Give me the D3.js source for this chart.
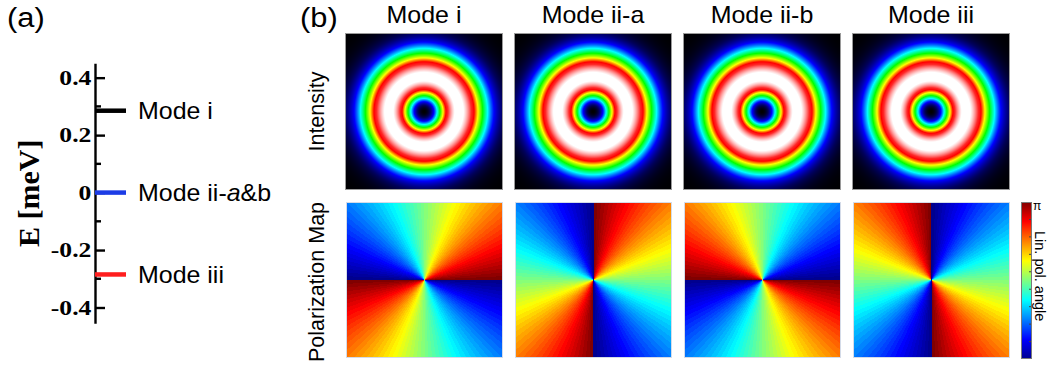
<!DOCTYPE html>
<html>
<head>
<meta charset="utf-8">
<script src="https://cdn.jsdelivr.net/npm/d3@7"></script>
<style>
  html, body { margin: 0; padding: 0; background: #fff; }
  svg { display: block; }
</style>
</head>
<body>
<svg id="fig" width="1054" height="370"></svg>
<script>
// ---- (a) energy levels ----
const levelLabels = ["Mode i", "Mode ii-a&b", "Mode iii"];
const levelEnergies = [0.285, 0, -0.285];          // meV
const levelColors = ["#000000", "#1c3ce6", "#ff1e1e"];
const energyTicks = [-0.4, -0.2, 0, 0.2, 0.4];
const energyMinorTicks = [-0.3, -0.1, 0.1, 0.3];

// ---- (b) mode maps ----
const modeNames = ["Mode i", "Mode ii-a", "Mode ii-b", "Mode iii"];
const ringRadius = [0.443, 0.443, 0.443, 0.443];   // donut peak, fraction of map half-width
const polWinding = [-1, 1, 1, -1];                 // polarization angle winding around the core
const polOffsetDeg = [0, 90, 0, 90];               // polarization angle along +x
const rowLabels = ["Intensity", "Polarization Map"];
const colorbarTickDeg = [20, 40, 60, 80, 100, 120, 140, 160];

// colormaps
const intensityStops  = [0, 0.08, 0.2, 0.33, 0.46, 0.6, 0.72, 0.8, 0.97, 1];
const intensityColors = ["#000000", "#00005a", "#0000ff", "#00ffff", "#00ff00",
                         "#ffff00", "#ff0000", "#ff2a2a", "#ffffff", "#ffffff"];
const jetStops  = [0, 0.125, 0.375, 0.625, 0.875, 1];
const jetColors = ["#00008f", "#0000ff", "#00ffff", "#ffff00", "#ff0000", "#800000"];

const SANS = "'Liberation Sans', Arial, sans-serif";
const SERIF = "'Liberation Serif', 'Times New Roman', serif";

const svg = d3.select("#fig");

const intensityColor = d3.scaleLinear().domain(intensityStops).range(intensityColors)
  .interpolate(d3.interpolateRgb).clamp(true);
const jet = d3.scaleLinear().domain(jetStops).range(jetColors)
  .interpolate(d3.interpolateRgb).clamp(true);

// text placed with an optional horizontal stretch and rotation
function addText(parent, x, y, str, o) {
  const t = parent.append("text")
    .attr("transform", `translate(${x},${y}) scale(${o.sx || 1},1)` + (o.rotate ? ` rotate(${o.rotate})` : ""))
    .attr("font-family", o.family || SANS)
    .attr("font-size", o.size)
    .attr("font-weight", o.weight || "normal")
    .attr("text-anchor", o.anchor || "start")
    .attr("fill", "#000");
  if (o.dy) t.attr("dy", o.dy);
  t.text(str);
  return t;
}

// rasterise a field on [-1,1]x[-1,1] into an image
function fieldImage(w, h, colorAt) {
  const cv = document.createElement("canvas");
  cv.width = w; cv.height = h;
  const ctx = cv.getContext("2d");
  const img = ctx.createImageData(w, h);
  const sx = d3.scaleLinear().domain([0, w]).range([-1, 1]);
  const sy = d3.scaleLinear().domain([0, h]).range([1, -1]);
  for (let j = 0; j < h; j++) {
    for (let i = 0; i < w; i++) {
      const c = d3.rgb(colorAt(sx(i + 0.5), sy(j + 0.5)));
      const k = 4 * (j * w + i);
      img.data[k] = c.r; img.data[k + 1] = c.g; img.data[k + 2] = c.b; img.data[k + 3] = 255;
    }
  }
  ctx.putImageData(img, 0, 0);
  return cv.toDataURL();
}

// ================= panel (a) =================
addText(svg, 7, 27, "(a)", { size: 28, sx: 1.1 });

const yE = d3.scaleLinear().domain([-0.455, 0.45]).range([323.3, 63.3]);
const axisX = 95;
const gA = svg.append("g");

const fmt = v => v === 0 ? "0" : (v < 0 ? "-" : "") + Math.abs(v).toFixed(1);
const axis = d3.axisLeft(yE).tickValues(energyTicks).tickFormat(fmt)
  .tickSize(-10).tickSizeOuter(0).tickPadding(3);
const gAxis = gA.append("g").attr("transform", `translate(${axisX},0)`).call(axis);
gAxis.select(".domain").attr("stroke", "#000").attr("stroke-width", 2.4);
gAxis.selectAll(".tick line").attr("stroke", "#000").attr("stroke-width", 2.4);
gAxis.selectAll(".tick text")
  .attr("font-family", SERIF).attr("font-size", 21).attr("font-weight", "bold")
  .attr("fill", "#000")
  .attr("transform", "scale(1.22,1)");

gA.selectAll("line.minor").data(energyMinorTicks).join("line")
  .attr("class", "minor")
  .attr("x1", axisX).attr("x2", axisX + 6)
  .attr("y1", d => yE(d)).attr("y2", d => yE(d))
  .attr("stroke", "#000").attr("stroke-width", 2.4);

addText(gA, 39, (yE(0.45) + yE(-0.455)) / 2, "E [meV]",
  { size: 30, family: SERIF, weight: "bold", rotate: -90, anchor: "middle" });

// level bars
gA.selectAll("line.level").data(levelEnergies).join("line")
  .attr("class", "level")
  .attr("x1", axisX).attr("x2", axisX + 31)
  .attr("y1", d => yE(d)).attr("y2", d => yE(d))
  .attr("stroke", (d, i) => levelColors[i]).attr("stroke-width", 4.5);

levelLabels.forEach((lab, i) => {
  const t = addText(gA, 138, yE(levelEnergies[i]) + 8.6, "", { size: 24, sx: 1.04 });
  if (lab.includes("-a&b")) {
    t.append("tspan").text("Mode ii-");
    t.append("tspan").attr("font-style", "italic").text("a");
    t.append("tspan").text("&b");
  } else {
    t.text(lab);
  }
});

// ================= panel (b) =================
addText(svg, 300, 27, "(b)", { size: 28, sx: 1.1 });

const colX = d3.scalePoint().domain(modeNames).range([345, 852]);
const mapW = 158, intY = 33, intH = 157;
const polY = 202, polH = 156, polW = 157;

const gB = svg.append("g");

modeNames.forEach((name, i) => {
  const x0 = colX(name);
  addText(gB, x0 + mapW / 2, 23, name, { size: 24, sx: 1.04, anchor: "middle" });

  // intensity: donut profile (r/r0)^2 exp(1 - (r/r0)^2)
  const r0 = ringRadius[i];
  const intensityAt = (x, y) => {
    const q = (x * x + y * y) / (r0 * r0);
    return q * Math.exp(1 - q);
  };
  gB.append("image")
    .attr("x", x0).attr("y", intY).attr("width", mapW).attr("height", intH)
    .attr("preserveAspectRatio", "none")
    .attr("href", fieldImage(mapW, intH, (x, y) => intensityColor(intensityAt(x, y))));
  gB.append("rect")
    .attr("x", x0 + 0.5).attr("y", intY + 0.5).attr("width", mapW - 1).attr("height", intH - 1)
    .attr("fill", "none").attr("stroke", "#9a9a9a").attr("stroke-width", 1);

  // polarization angle in [0, pi), drawn in 64 levels
  const w = polWinding[i], off = polOffsetDeg[i] * Math.PI / 180;
  const polAt = (x, y) => {
    let psi = (w * Math.atan2(y, x) + off) % Math.PI;
    if (psi < 0) psi += Math.PI;
    return Math.min(63, Math.floor(psi / Math.PI * 64)) / 63;
  };
  gB.append("image")
    .attr("x", x0 + 1).attr("y", polY).attr("width", polW).attr("height", polH)
    .attr("preserveAspectRatio", "none")
    .attr("href", fieldImage(polW, polH, (x, y) => jet(polAt(x, y))));
  gB.append("rect")
    .attr("x", x0 + 1.5).attr("y", polY + 0.5).attr("width", polW - 1).attr("height", polH - 1)
    .attr("fill", "none").attr("stroke", "#d4dbe8").attr("stroke-width", 1);
});

// row labels
addText(gB, 324, intY + intH / 2, rowLabels[0], { size: 21.5, rotate: -90, anchor: "middle" });
addText(gB, 324, polY + polH / 2 + 2, rowLabels[1], { size: 21.5, rotate: -90, anchor: "middle" });

// colorbar
const cbX = 1021, cbW = 11, cbY = 202, cbH = 157;
const cbScale = d3.scaleLinear().domain([0, 180]).range([cbY + cbH, cbY]);
gB.append("image")
  .attr("x", cbX).attr("y", cbY).attr("width", cbW).attr("height", cbH)
  .attr("preserveAspectRatio", "none")
  .attr("href", fieldImage(cbW, cbH, (x, y) => jet((y + 1) / 2)));
gB.append("rect")
  .attr("x", cbX + 0.5).attr("y", cbY + 0.5).attr("width", cbW - 1).attr("height", cbH - 1)
  .attr("fill", "none").attr("stroke", "#7a7a7a").attr("stroke-width", 1);
gB.selectAll("line.cbtick").data(colorbarTickDeg).join("line")
  .attr("class", "cbtick")
  .attr("x1", cbX + cbW - 3).attr("x2", cbX + cbW - 1)
  .attr("y1", d => cbScale(d)).attr("y2", d => cbScale(d))
  .attr("stroke", "#444").attr("stroke-width", 1);
addText(gB, 1033, 210, "\u03C0", { size: 12 });
addText(gB, 1035, 231, "Lin. pol. angle", { size: 14.5, rotate: 90 });
</script>
</body>
</html>
